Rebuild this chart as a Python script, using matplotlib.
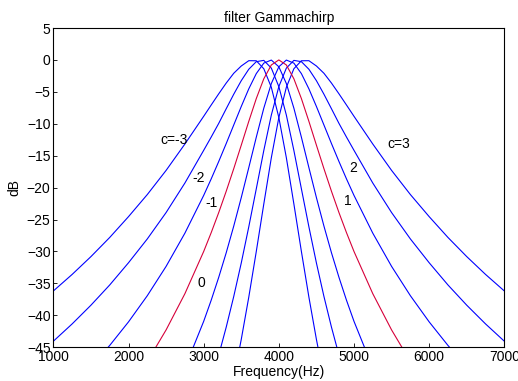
import matplotlib
matplotlib.use("Agg")
import matplotlib.pyplot as plt

plt.rcParams['font.family'] = ['Liberation Sans', 'DejaVu Sans']

# frequency grid (Hz)
freq = [1000, 1250, 1500, 1750, 2000, 2250, 2500, 2750, 3000, 3100, 3200, 3300, 3400,
        3500, 3600, 3700, 3800, 3900, 4000, 4100, 4200, 4300, 4400, 4500,
        4600, 4700, 4800, 4900, 5000, 5250, 5500, 5750, 6000, 6250, 6500, 6750, 7000]

# filter responses in dB, one list per chirp value c
gain_cm3 = [-36.18, -33.59, -30.80, -27.80, -24.54, -21.08, -17.30, -13.17, -8.83, -7.06, -5.31, -3.62, -2.09,
            -0.95, -0.12, -0.13, -1.38, -4.28, -9.02, -15.32, -22.55, -29.99, -37.15, -43.77,
            -49.79, -55.23, -60.14, -64.57, -68.61, -77.28, -84.40, -90.41, -95.60, -100.14, -104.19, -107.82, -111.13]
gain_cm2 = [-44.05, -41.34, -38.41, -35.24, -31.76, -28.03, -23.90, -19.28, -14.16, -12.08, -9.94, -7.64, -5.37,
            -3.25, -1.46, -0.27, -0.07, -1.28, -4.18, -8.64, -14.18, -20.18, -26.14, -31.80,
            -37.04, -41.84, -46.23, -50.23, -53.91, -61.89, -68.53, -74.19, -79.10, -83.43, -87.30, -90.80, -93.98]
gain_cm1 = [-53.95, -51.13, -48.06, -44.71, -41.02, -36.92, -32.33, -27.13, -21.22, -18.63, -15.91, -13.09, -10.19,
            -7.29, -4.53, -2.14, -0.50, -0.02, -1.07, -3.70, -7.55, -12.10, -16.87, -21.56,
            -26.02, -30.19, -34.05, -37.63, -40.94, -48.23, -54.39, -59.70, -64.34, -68.45, -72.15, -75.50, -78.57]
gain_c0 = [-65.19, -62.24, -59.03, -55.50, -51.60, -47.23, -42.28, -36.61, -30.00, -27.05, -23.91, -20.56, -17.03,
           -13.35, -9.62, -6.05, -2.95, -0.79, 0.00, -0.79, -2.95, -6.05, -9.62, -13.35,
           -17.03, -20.56, -23.91, -27.05, -30.00, -36.61, -42.28, -47.23, -51.60, -55.50, -59.03, -62.24, -65.19]
gain_c1 = [-78.57, -75.50, -72.15, -68.45, -64.34, -59.70, -54.39, -48.23, -40.94, -37.63, -34.05, -30.19, -26.02,
           -21.56, -16.87, -12.10, -7.55, -3.70, -1.07, -0.02, -0.50, -2.14, -4.53, -7.29,
           -10.19, -13.09, -15.91, -18.63, -21.22, -27.13, -32.33, -36.92, -41.02, -44.71, -48.06, -51.13, -53.95]
gain_c2 = [-93.98, -90.80, -87.30, -83.43, -79.10, -74.19, -68.53, -61.89, -53.91, -50.23, -46.23, -41.84, -37.04,
           -31.80, -26.14, -20.18, -14.18, -8.64, -4.18, -1.28, -0.07, -0.27, -1.46, -3.25,
           -5.37, -7.64, -9.94, -12.08, -14.16, -19.28, -23.90, -28.03, -31.76, -35.24, -38.41, -41.34, -44.05]
gain_c3 = [-111.13, -107.82, -104.19, -100.14, -95.60, -90.41, -84.40, -77.28, -68.61, -64.57, -60.14, -55.23, -49.79,
           -43.77, -37.15, -29.99, -22.55, -15.32, -9.02, -4.28, -1.38, -0.13, -0.12, -0.95,
           -2.09, -3.62, -5.31, -7.06, -8.83, -13.17, -17.30, -21.08, -24.54, -27.80, -30.80, -33.59, -36.18]

# curve labels: text, frequency, dB
label_text = ['c=-3', '-2', '-1', '0', '1', '2', 'c=3']
label_freq = [2606, 2938, 3098, 2965, 4914, 4994, 5590]
label_db = [-12.5, -18.5, -22.4, -35.0, -22.1, -16.9, -13.2]

fig = plt.figure(figsize=(5.18, 3.81), dpi=100)
ax = fig.add_axes([0.103, 0.0885, 0.8706, 0.838])

for g in [gain_cm3, gain_cm2, gain_cm1, gain_c1, gain_c2, gain_c3]:
    ax.plot(freq, g, color='#0000ff', lw=0.8)
ax.plot(freq, gain_c0, color='#d6003a', lw=0.8)

for t, f, d in zip(label_text, label_freq, label_db):
    ax.text(f, d, t, fontsize=10, ha='center', va='center')

ax.set_xlim(1000, 7000)
ax.set_ylim(-45, 5)
ax.set_xticks(range(1000, 7001, 1000))
ax.set_yticks(range(-45, 6, 5))
ax.tick_params(direction='in', labelsize=10, length=3, width=0.6, pad=2)
for s in ax.spines.values():
    s.set_linewidth(0.8)

ax.set_title('filter Gammachirp', fontsize=10, pad=4)
ax.set_xlabel('Frequency(Hz)', fontsize=10, labelpad=1)
ax.set_ylabel('dB', fontsize=10, labelpad=4)

fig.savefig('out.png', dpi=100)
